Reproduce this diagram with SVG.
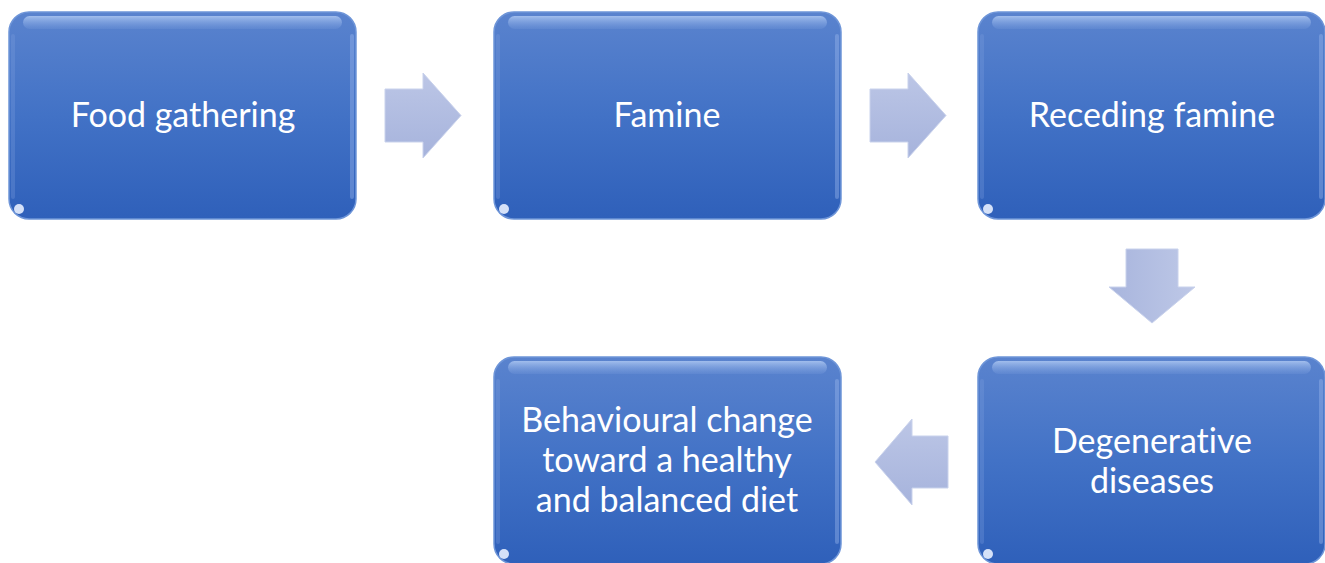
<svg xmlns="http://www.w3.org/2000/svg" width="1325" height="563" viewBox="0 0 1325 563">
<defs>
<linearGradient id="boxg" x1="0" y1="0" x2="0" y2="1">
<stop offset="0" stop-color="#5A83CE"/>
<stop offset="0.5" stop-color="#4272C6"/>
<stop offset="1" stop-color="#2F60BA"/>
</linearGradient>
<linearGradient id="gloss" x1="0" y1="0" x2="0" y2="1">
<stop offset="0" stop-color="#A9C4F0" stop-opacity="0.9"/>
<stop offset="1" stop-color="#7FA2E0" stop-opacity="0.2"/>
</linearGradient>
<linearGradient id="arrg" x1="0" y1="0" x2="0" y2="1">
<stop offset="0" stop-color="#BCC6E6"/>
<stop offset="1" stop-color="#A6B3DC"/>
</linearGradient>
<linearGradient id="arrgh" x1="0" y1="0" x2="1" y2="0">
<stop offset="0" stop-color="#A8B5DD"/>
<stop offset="1" stop-color="#BEC8E7"/>
</linearGradient>
<g id="box">
<rect x="0" y="0" width="347" height="207" rx="20" ry="20" fill="url(#boxg)" stroke="#6E95D8" stroke-width="1.5"/>
<rect x="14" y="4" width="319" height="13" rx="6.5" fill="url(#gloss)"/>
<rect x="2" y="22" width="4" height="165" rx="2" fill="#7EA0DD" opacity="0.3"/>
<rect x="341" y="22" width="4" height="165" rx="2" fill="#9DBAEE" opacity="0.4"/>
<circle cx="10" cy="197" r="5" fill="#E8F0FF" opacity="0.9"/>
</g>
</defs>
<style>
.lbl{font-family:"Lato","Liberation Sans",sans-serif;font-size:34px;fill:#FFFFFF;text-anchor:middle;font-variant-ligatures:none}
.arr{stroke:#C9D2EC;stroke-width:1}
</style>
<g id="connectors">
<polygon class="arr" fill="url(#arrg)" points="385,89 423,89 423,73 461,115.5 423,158 423,142 385,142"/>
<polygon class="arr" fill="url(#arrg)" points="870,89 908,89 908,73 946,115.5 908,158 908,142 870,142"/>
<polygon class="arr" fill="url(#arrgh)" points="1126,249 1178,249 1178,287 1195,287 1152,323 1109,287 1126,287"/>
<polygon class="arr" fill="url(#arrg)" points="948,436 912,436 912,419 875,462 912,505 912,488 948,488"/>
</g>
<g id="n1">
<use href="#box" x="9" y="12"/>
<text class="lbl" x="183" y="127">Food gathering</text>
</g>
<g id="n2">
<use href="#box" x="494" y="12"/>
<text class="lbl" x="667" y="127">Famine</text>
</g>
<g id="n3">
<use href="#box" x="978" y="12"/>
<text class="lbl" x="1152" y="127">Receding famine</text>
</g>
<g id="n4">
<use href="#box" x="978" y="357"/>
<text class="lbl" x="1152" y="453">Degenerative</text>
<text class="lbl" x="1152" y="493">diseases</text>
</g>
<g id="n5">
<use href="#box" x="494" y="357"/>
<text class="lbl" x="667" y="432">Behavioural change</text>
<text class="lbl" x="667" y="472">toward a healthy</text>
<text class="lbl" x="667" y="512">and balanced diet</text>
</g>
</svg>
